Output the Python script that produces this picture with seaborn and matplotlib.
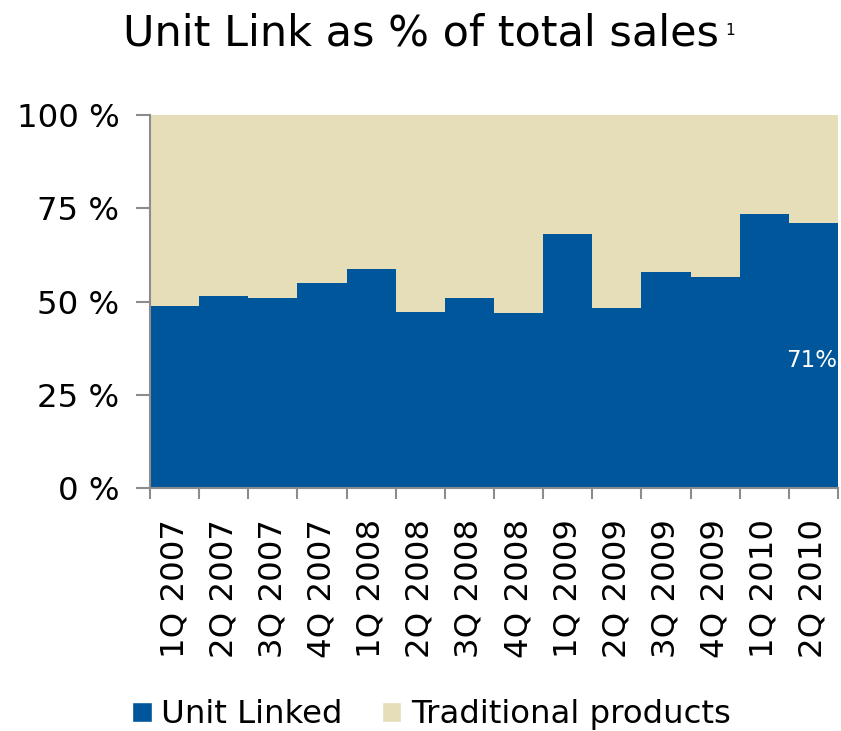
import matplotlib
matplotlib.use("Agg")
import matplotlib.pyplot as plt
from matplotlib.patches import Patch
from matplotlib.ticker import FixedLocator
import seaborn as sns
import pandas as pd

quarters = ["1Q 2007", "2Q 2007", "3Q 2007", "4Q 2007",
            "1Q 2008", "2Q 2008", "3Q 2008", "4Q 2008",
            "1Q 2009", "2Q 2009", "3Q 2009", "4Q 2009",
            "1Q 2010", "2Q 2010"]
unit_linked = [48.8, 51.5, 50.9, 54.9, 58.6, 47.3, 51.0,
               47.0, 68.0, 48.4, 57.8, 56.6, 73.5, 71.1]
traditional = [51.2, 48.5, 49.1, 45.1, 41.4, 52.7, 49.0,
               53.0, 32.0, 51.6, 42.2, 43.4, 26.5, 28.9]
y_ticks = [0, 25, 50, 75, 100]
y_labels = ["0 %", "25 %", "50 %", "75 %", "100 %"]

BLUE = "#00569A"
BEIGE = "#E6DDB9"
GREY = "#8C8C8C"

sns.set_style("white")
plt.rcParams["font.family"] = ["DejaVu Sans"]
plt.rcParams["text.color"] = "black"
plt.rcParams["xtick.labelcolor"] = "black"
plt.rcParams["ytick.labelcolor"] = "black"

df = pd.DataFrame({"quarter": quarters,
                   "unit": unit_linked,
                   "total": [u + t for u, t in zip(unit_linked, traditional)]})

fig = plt.figure(figsize=(8.41, 7.31), dpi=100)
ax = fig.add_axes([0.1784, 0.332, 0.818, 0.511])

# stacked: full column in beige (traditional on top), unit linked in blue below
sns.barplot(data=df, x="quarter", y="total", color=BEIGE, width=1.0,
            saturation=1, ax=ax, linewidth=0)
sns.barplot(data=df, x="quarter", y="unit", color=BLUE, width=1.0,
            saturation=1, ax=ax, linewidth=0)

n = len(quarters)
ax.set_xlim(-0.5, n - 0.5)
ax.set_ylim(0, 100)
ax.set_xlabel("")
ax.set_ylabel("")

ax.set_yticks(y_ticks)
ax.set_yticklabels(y_labels, fontsize=23.3)
ax.tick_params(axis="y", length=10, width=1.5, color=GREY, pad=12, left=True)

ax.set_xticks(range(n))
ax.set_xticklabels(quarters, rotation=90, fontsize=23.3)
ax.tick_params(axis="x", which="major", length=0, pad=22)
ax.xaxis.set_minor_locator(FixedLocator([i - 0.5 for i in range(n + 1)]))
ax.tick_params(axis="x", which="minor", length=8, width=1.5, color=GREY,
               bottom=True)

for s in ["top", "right"]:
    ax.spines[s].set_visible(False)
for s in ["left", "bottom"]:
    ax.spines[s].set_color(GREY)
    ax.spines[s].set_linewidth(1.5)

ax.text(n - 1 + 0.49, unit_linked[-1] - 37, f"{round(unit_linked[-1])}%",
        color="white", fontsize=16.5, ha="right", va="center")

fig.text(0.501, 0.954, "Unit Link as % of total sales", fontsize=31,
         ha="center", va="center")
fig.text(0.862, 0.958, "1", fontsize=11, ha="left", va="center")

handles = [Patch(facecolor=BLUE, label="Unit Linked"),
           Patch(facecolor=BEIGE, label="Traditional products")]
fig.legend(handles=handles, loc="center", bbox_to_anchor=(0.513, 0.022),
           ncol=2, frameon=False, fontsize=23.3, handlelength=0.6,
           handleheight=0.6, handletextpad=0.3, columnspacing=1.2)

fig.savefig("out.png", dpi=100)
